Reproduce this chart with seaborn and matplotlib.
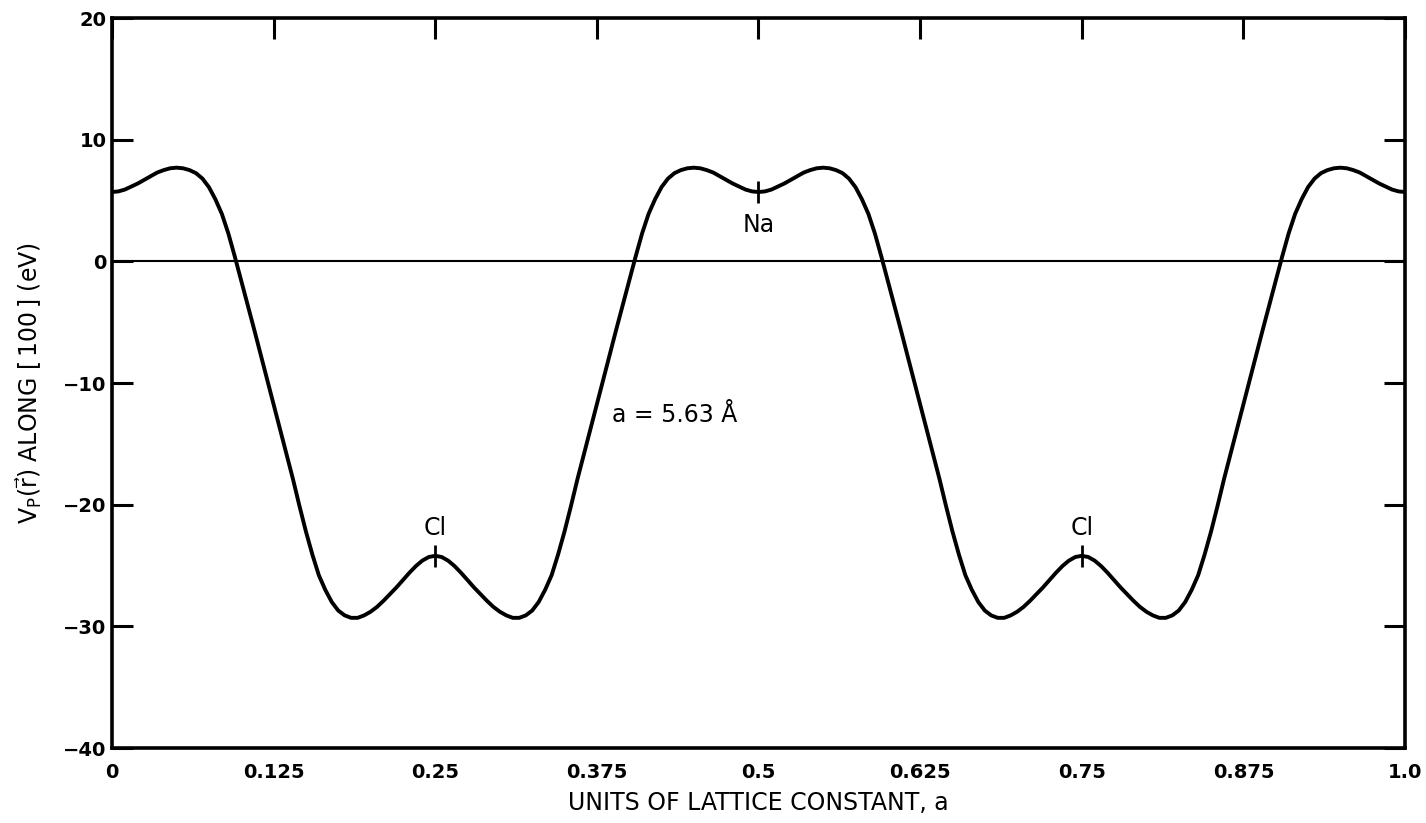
import matplotlib
matplotlib.use("Agg")
import matplotlib.pyplot as plt
import seaborn as sns
import pandas as pd

# ---- data (step 0.005 in units of a) ----
x_pos = [round(i * 0.005, 3) for i in range(201)]
seg_0_025 = [
    5.7, 5.75, 5.9, 6.15, 6.4, 6.7, 7.0, 7.3, 7.5, 7.65,
    7.7, 7.65, 7.5, 7.25, 6.8, 6.1, 5.1, 3.9, 2.3, 0.4,
    -1.6, -3.6, -5.6, -7.65, -9.7, -11.75, -13.8, -15.85, -17.9, -20.1,
    -22.2, -24.1, -25.8, -27.0, -28.0, -28.7, -29.1, -29.3, -29.3, -29.1,
    -28.8, -28.4, -27.9, -27.35, -26.8, -26.2, -25.6, -25.05, -24.6, -24.3,
    -24.2,
]
seg_025_05 = [
    -24.3, -24.6, -25.05, -25.6, -26.2, -26.8, -27.35, -27.9, -28.4, -28.8,
    -29.1, -29.3, -29.3, -29.1, -28.7, -28.0, -27.0, -25.8, -24.1, -22.2,
    -20.1, -17.9, -15.85, -13.8, -11.75, -9.7, -7.65, -5.6, -3.6, -1.6,
    0.4, 2.3, 3.9, 5.1, 6.1, 6.8, 7.25, 7.5, 7.65, 7.7,
    7.65, 7.5, 7.3, 7.0, 6.7, 6.4, 6.15, 5.9, 5.75, 5.7,
]
seg_05_075 = [
    5.75, 5.9, 6.15, 6.4, 6.7, 7.0, 7.3, 7.5, 7.65, 7.7,
    7.65, 7.5, 7.25, 6.8, 6.1, 5.1, 3.9, 2.3, 0.4, -1.6,
    -3.6, -5.6, -7.65, -9.7, -11.75, -13.8, -15.85, -17.9, -20.1, -22.2,
    -24.1, -25.8, -27.0, -28.0, -28.7, -29.1, -29.3, -29.3, -29.1, -28.8,
    -28.4, -27.9, -27.35, -26.8, -26.2, -25.6, -25.05, -24.6, -24.3, -24.2,
]
seg_075_1 = [
    -24.3, -24.6, -25.05, -25.6, -26.2, -26.8, -27.35, -27.9, -28.4, -28.8,
    -29.1, -29.3, -29.3, -29.1, -28.7, -28.0, -27.0, -25.8, -24.1, -22.2,
    -20.1, -17.9, -15.85, -13.8, -11.75, -9.7, -7.65, -5.6, -3.6, -1.6,
    0.4, 2.3, 3.9, 5.1, 6.1, 6.8, 7.25, 7.5, 7.65, 7.7,
    7.65, 7.5, 7.3, 7.0, 6.7, 6.4, 6.15, 5.9, 5.75, 5.7,
]
potential = seg_0_025 + seg_025_05 + seg_05_075 + seg_075_1

atom_names = ["Cl", "Na", "Cl"]
atom_x = [0.25, 0.5, 0.75]
atom_v = [-24.2, 5.7, -24.2]
atom_label_y = [-21.9, 3.0, -21.9]

x_ticks = [0, 0.125, 0.25, 0.375, 0.5, 0.625, 0.75, 0.875, 1.0]
x_tick_labels = ["0", "0.125", "0.25", "0.375", "0.5", "0.625", "0.75", "0.875", "1.0"]
y_ticks = [20, 10, 0, -10, -20, -30, -40]
y_tick_labels = ["20", "10", "0", "\u221210", "\u221220", "\u221230", "\u221240"]

df = pd.DataFrame({"x": x_pos, "V": potential})

sns.set_theme(style="ticks")
plt.rcParams["font.family"] = ["DejaVu Sans"]
plt.rcParams["mathtext.fontset"] = "dejavusans"

fig = plt.figure(figsize=(14.26, 8.23), dpi=100)
ax = fig.add_axes([0.0785, 0.0911, 0.9068, 0.8870])

ax.axhline(0, color="black", lw=1.5, zorder=1)
sns.lineplot(data=df, x="x", y="V", ax=ax, color="black", lw=2.8, zorder=3)

# atom position ticks
sns.scatterplot(x=atom_x, y=atom_v, ax=ax, marker="|", s=260, color="black",
                linewidth=2, zorder=4)
for name, xa, ya in zip(atom_names, atom_x, atom_label_y):
    ax.text(xa, ya, name, ha="center", va="center", fontsize=17, color="black")

ax.text(0.387, -12.6, "a = 5.63 \u00c5", ha="left", va="center", fontsize=17,
        color="black")

ax.set_xlim(0, 1.0)
ax.set_ylim(-40, 20)
ax.set_xticks(x_ticks)
ax.set_xticklabels(x_tick_labels, fontsize=14, fontweight="bold")
ax.set_yticks(y_ticks)
ax.set_yticklabels(y_tick_labels, fontsize=14, fontweight="bold")
ax.tick_params(axis="both", direction="in", length=15, width=2.2,
               top=True, right=True, color="black", labelcolor="black")
ax.tick_params(axis="x", pad=11, bottom=False)
ax.tick_params(axis="y", pad=4)

for sp in ax.spines.values():
    sp.set_visible(True)
    sp.set_linewidth(2.6)
    sp.set_color("black")

ax.set_xlabel("UNITS OF LATTICE CONSTANT, a", fontsize=17, color="black",
              labelpad=6)
ax.set_ylabel(r"V$_{\rm P}$($\vec{\rm r}$) ALONG $\left[\,\mathrm{100}\,\right]$ (eV)",
              fontsize=17, color="black", labelpad=14)

fig.savefig("out.png", dpi=100, facecolor="white")
